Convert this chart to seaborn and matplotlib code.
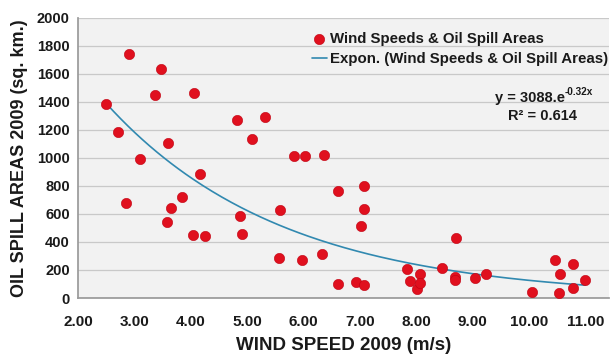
import matplotlib
matplotlib.use("Agg")
import matplotlib.pyplot as plt
import seaborn as sns
import numpy as np
import pandas as pd

wind_speed = [2.50, 2.71, 2.86, 2.90, 3.10, 3.37, 3.48, 3.60, 3.57, 3.65, 3.84, 4.06, 4.04,
              4.17, 4.25, 4.82, 4.87, 4.91, 5.08, 5.32, 5.58, 5.56, 5.83, 6.02, 5.97, 6.36,
              6.33, 6.61, 6.61, 6.94, 7.02, 7.08, 7.08, 7.07, 7.83, 7.89, 8.02, 8.06, 8.07,
              8.45, 8.70, 8.68, 8.68, 9.05, 9.24, 10.06, 10.47, 10.55, 10.54, 10.78, 10.79, 11.00]
spill_area = [1386, 1186, 676, 1743, 990, 1450, 1633, 1105, 545, 645, 717, 1459, 450,
              883, 445, 1271, 586, 455, 1136, 1290, 629, 286, 1010, 1010, 271, 1017,
              312, 760, 100, 117, 510, 802, 638, 90, 205, 121, 62, 169, 110,
              217, 431, 150, 125, 140, 174, 46, 271, 169, 33, 240, 74, 129]
fit_a = 3088.0
fit_b = -0.32
x_ticks = [2, 3, 4, 5, 6, 7, 8, 9, 10, 11]
y_ticks = [0, 200, 400, 600, 800, 1000, 1200, 1400, 1600, 1800, 2000]

sns.set_theme(style="white")
plt.rcParams['font.family'] = ['Liberation Sans', 'DejaVu Sans']

df = pd.DataFrame({"wind": wind_speed, "area": spill_area})
xs = np.linspace(min(wind_speed), max(wind_speed), 200)
trend = pd.DataFrame({"wind": xs, "area": fit_a * np.exp(fit_b * xs)})

fig = plt.figure(figsize=(6.10, 3.54), dpi=100)
ax = fig.add_axes([78/610, 1-298/354, (609-78)/610, (298-17.5)/354])
ax.set_facecolor('#f2f2f2')

sns.lineplot(data=trend, x="wind", y="area", ax=ax, color='#3189b0', linewidth=1.2,
             label='Expon. (Wind Speeds & Oil Spill Areas)', zorder=2)
sns.scatterplot(data=df, x="wind", y="area", ax=ax, color='#e0101e', s=55,
                edgecolor='#c00010', linewidth=0.4, label='Wind Speeds & Oil Spill Areas', zorder=3)

ax.set_xlim(2, 11.42)
ax.set_ylim(0, 2000)
ax.set_xticks(x_ticks)
ax.set_xticklabels([f"{v:.2f}" for v in x_ticks])
ax.set_yticks(y_ticks)
ax.set_yticklabels([str(v) for v in y_ticks])
ax.yaxis.grid(True, color='#c9c9c9', linewidth=0.9)
ax.xaxis.grid(False)
ax.set_axisbelow(True)
for s in ['top', 'right']:
    ax.spines[s].set_visible(False)
ax.spines['left'].set_color('#9a9a9a')
ax.spines['bottom'].set_color('#9a9a9a')
ax.tick_params(axis='x', which='major', direction='out', length=4, color='#9a9a9a',
               labelsize=11, pad=8)
ax.tick_params(axis='y', length=0, labelsize=10.5, pad=6)
for lab in ax.get_xticklabels() + ax.get_yticklabels():
    lab.set_fontweight('bold')
    lab.set_color('#1a1a1a')

ax.set_xlabel('WIND SPEED 2009 (m/s)', fontsize=13.5, fontweight='bold', color='#1a1a1a', labelpad=6)
ax.set_ylabel('OIL SPILL AREAS 2009 (sq. km.)', fontsize=13, fontweight='bold', color='#1a1a1a', labelpad=6)

handles, labels = ax.get_legend_handles_labels()
order = [labels.index('Wind Speeds & Oil Spill Areas'), labels.index('Expon. (Wind Speeds & Oil Spill Areas)')]
leg = ax.legend([handles[i] for i in order], [labels[i] for i in order],
                loc='upper left', bbox_to_anchor=(304/610, 1-24/354), bbox_transform=fig.transFigure,
                frameon=False, fontsize=10.8, handlelength=1.0, handletextpad=0.2,
                labelspacing=0.45, borderpad=0)
for t in leg.get_texts():
    t.set_fontweight('bold')
    t.set_color('#1a1a1a')

t1 = fig.text(565/610, 1-98/354, 'y = 3088.e', ha='right', va='center',
              fontsize=10.5, fontweight='bold', color='#1a1a1a')
fig.text(565/610, 1-92/354, '-0.32x', ha='left', va='center',
         fontsize=7.2, fontweight='bold', color='#1a1a1a')
fig.text(543/610, 1-116/354, 'R² = 0.614', ha='center', va='center',
         fontsize=10.5, fontweight='bold', color='#1a1a1a')

fig.savefig('out.png', dpi=100)
